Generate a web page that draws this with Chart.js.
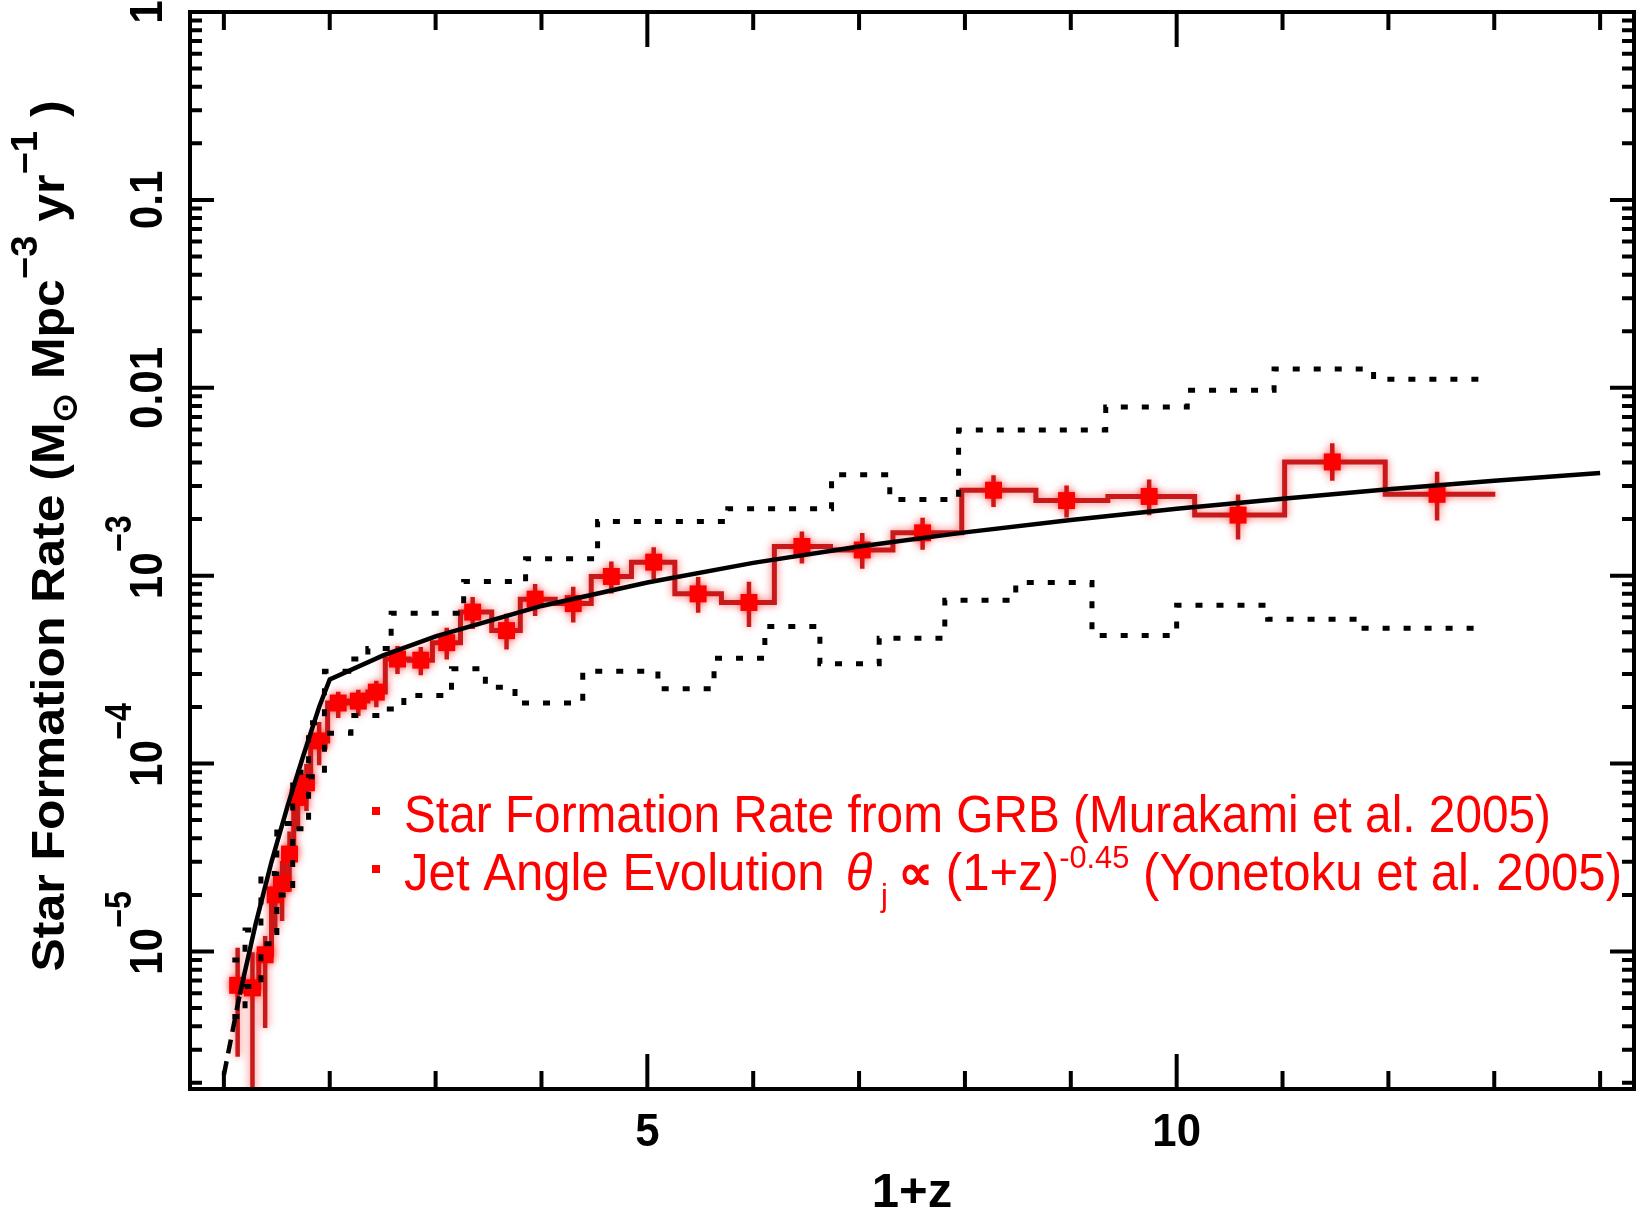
<!DOCTYPE html>
<html>
<head>
<meta charset="utf-8">
<title>Star Formation Rate from GRB</title>
<script src="https://cdn.jsdelivr.net/npm/chart.js@4.4.1/dist/chart.umd.min.js"></script>
<style>
  html, body { margin: 0; padding: 0; background: #fff; }
  #wrap { width: 1646px; height: 1214px; }
</style>
</head>
<body>
<div id="wrap"><canvas id="sfr" width="1646" height="1214"></canvas></div>
<script>
// GRB-derived star formation rate: histogram bin edges in 1+z and the rate in each bin
const binEdges = [1.07, 1.2, 1.33, 1.45, 1.52, 1.58, 1.66, 1.74, 1.82, 1.98, 2.18, 2.36, 2.525,
  2.75, 2.97, 3.235, 3.53, 3.80, 4.13, 4.47, 4.85, 5.26, 5.70, 6.20, 6.73, 7.32, 7.97, 8.67,
  9.35, 10.17, 11.02, 11.97, 13.01];
const binRate = [6.6e-6, 6.4e-6, 9.6e-6, 2.0e-5, 2.3e-5, 3.3e-5, 6.6e-5, 7.9e-5, 1.32e-4,
  2.1e-4, 2.15e-4, 2.4e-4, 3.6e-4, 3.55e-4, 4.4e-4, 6.4e-4, 5.1e-4, 7.5e-4, 7.1e-4, 9.9e-4,
  1.18e-3, 8.0e-4, 7.2e-4, 1.43e-3, 1.37e-3, 1.69e-3, 2.85e-3, 2.51e-3, 2.64e-3, 2.10e-3,
  4.03e-3, 2.71e-3];
// marker positions and error bar lengths (dex above / below the bin value)
const markX = [1.13, 1.27, 1.39, 1.485, 1.55, 1.62, 1.70, 1.78, 1.90, 2.08, 2.27, 2.44, 2.64,
  2.86, 3.105, 3.35, 3.67, 3.94, 4.30, 4.66, 5.06, 5.48, 5.96, 6.46, 7.03, 7.60, 8.27, 8.96,
  9.74, 10.58, 11.47, 12.46];
const errUp = [0.20, 0.19, 0.10, 0.12, 0.12, 0.12, 0.10, 0.10, 0.10, 0.06, 0.06, 0.06, 0.07,
  0.07, 0.08, 0.08, 0.09, 0.08, 0.09, 0.08, 0.08, 0.09, 0.11, 0.08, 0.09, 0.08, 0.08, 0.08,
  0.09, 0.11, 0.10, 0.12];
const errDown = [0.38, 0.80, 0.39, 0.20, 0.20, 0.20, 0.17, 0.15, 0.13, 0.08, 0.08, 0.08, 0.08,
  0.08, 0.09, 0.09, 0.10, 0.09, 0.10, 0.09, 0.09, 0.10, 0.13, 0.09, 0.10, 0.09, 0.09, 0.09,
  0.10, 0.13, 0.10, 0.14];

// upper and lower bounds (dotted step lines)
const upEdges = [1.08, 1.2, 1.35, 1.5, 1.65, 1.8, 1.95, 2.18, 2.36, 2.58, 3.265, 3.85, 4.53,
  5.76, 6.74, 7.29, 7.94, 9.33, 10.1, 10.92, 11.86, 12.87];
const upRate = [9e-6, 1.3e-5, 2.6e-5, 4.8e-5, 9.0e-5, 1.65e-4, 3.1e-4, 3.6e-4, 4.1e-4, 6.3e-4,
  9.3e-4, 1.23e-3, 1.94e-3, 2.27e-3, 3.44e-3, 2.54e-3, 5.96e-3, 7.9e-3, 9.7e-3, 1.26e-2, 1.11e-2];
const loEdges = [1.08, 1.2, 1.35, 1.5, 1.65, 1.8, 1.95, 2.2, 2.53, 2.70, 3.15, 3.47, 3.75, 4.39,
  5.1, 5.63, 6.11, 6.63, 7.19, 7.81, 8.48, 9.2, 10.0, 10.86, 11.77, 12.85];
const loRate = [4.5e-6, 6.5e-6, 1.1e-5, 2.0e-5, 4.5e-5, 8.5e-5, 1.45e-4, 1.8e-4, 1.95e-4, 2.3e-4,
  3.2e-4, 2.55e-4, 2.1e-4, 3.1e-4, 2.5e-4, 3.64e-4, 5.37e-4, 3.4e-4, 4.65e-4, 7.4e-4, 9.2e-4,
  4.8e-4, 6.95e-4, 5.86e-4, 5.25e-4];

// jet angle evolution model curve
const modelX = [1.0, 1.15, 1.3, 1.45, 1.6, 1.75, 1.9, 2.0, 2.5, 3, 4, 5, 6, 7, 8, 9, 10, 11, 12, 13, 14];
const modelY = [2.2e-6, 5.9e-6, 1.4e-5, 3.0e-5, 5.9e-5, 1.1e-4, 2.0e-4, 2.8e-4, 3.75e-4, 4.75e-4,
  6.9e-4, 9.2e-4, 1.17e-3, 1.43e-3, 1.70e-3, 1.98e-3, 2.27e-3, 2.57e-3, 2.88e-3, 3.2e-3, 3.52e-3];
const modelDashedBelow = 1.15;

// axis ticks and labels
const xTicks = [1, 2, 3, 4, 5, 6, 7, 8, 9, 10, 11, 12, 13, 14];
const xLabeled = [5, 10];
const yDecades = [1e-5, 1e-4, 1e-3, 0.01, 0.1, 1];
const yLabels = [['10', '\u22125'], ['10', '\u22124'], ['10', '\u22123'], ['0.01'], ['0.1'], ['1']];

const RED_LINE = 'rgb(200,26,26)';
const RED_MARK = 'rgb(255,0,0)';
const FONT = '"Liberation Sans", Arial, sans-serif';

function steps(edges, rates) {
  return edges.map((x, i) => ({ x: x, y: rates[Math.min(i, rates.length - 1)] }));
}

const errBars = [];
markX.forEach((x, i) => {
  errBars.push({ x: x, y: binRate[i] * Math.pow(10, errUp[i]) });
  errBars.push({ x: x, y: binRate[i] / Math.pow(10, errDown[i]) });
  errBars.push({ x: x, y: null });
});

// soft red halo around the GRB histogram
const glow = {
  id: 'glow',
  beforeDatasetDraw(chart, args) {
    const ds = chart.data.datasets[args.index];
    chart.ctx.save();
    if (ds.glow) {
      chart.ctx.shadowColor = 'rgba(255,0,0,0.6)';
      chart.ctx.shadowBlur = 8;
    }
  },
  afterDatasetDraw(chart) {
    chart.ctx.restore();
  }
};

// text pieces laid along one baseline, squeezed horizontally by sx
function runWidth(ctx, parts) {
  let w = 0;
  parts.forEach(p => {
    ctx.font = (p.style || '') + ' ' + p.size + 'px ' + FONT;
    w += ctx.measureText(p.t).width + (p.gap || 0);
  });
  return w;
}
function drawRun(ctx, parts, x0, y0, sx) {
  let x = 0;
  ctx.save();
  ctx.translate(x0, y0);
  ctx.scale(sx, 1);
  parts.forEach(p => {
    ctx.font = (p.style || '') + ' ' + p.size + 'px ' + FONT;
    ctx.fillText(p.t, x, p.dy || 0);
    x += ctx.measureText(p.t).width + (p.gap || 0);
  });
  ctx.restore();
}

const frame = {
  id: 'frame',
  afterDraw(chart) {
    const ctx = chart.ctx;
    const a = chart.chartArea;
    const xs = chart.scales.x, ys = chart.scales.y;
    ctx.save();
    ctx.strokeStyle = '#000';
    ctx.fillStyle = '#000';
    ctx.lineWidth = 4;
    ctx.lineCap = 'butt';
    ctx.strokeRect(a.left, a.top, a.right - a.left, a.bottom - a.top);

    ctx.beginPath();
    xTicks.forEach(v => {
      const px = xs.getPixelForValue(v);
      const len = xLabeled.includes(v) ? 35 : 18;
      ctx.moveTo(px, a.bottom); ctx.lineTo(px, a.bottom - len);
      ctx.moveTo(px, a.top); ctx.lineTo(px, a.top + len);
    });
    for (let e = -6; e <= 0; e++) {
      for (let k = 1; k <= 9; k++) {
        const v = k * Math.pow(10, e);
        if (v < ys.min * 0.999 || v > ys.max * 1.001) continue;
        const py = ys.getPixelForValue(v);
        const len = k === 1 ? 24 : 12;
        ctx.moveTo(a.left, py); ctx.lineTo(a.left + len, py);
        ctx.moveTo(a.right, py); ctx.lineTo(a.right - len, py);
      }
    }
    ctx.stroke();

    // x tick labels and title
    ctx.textAlign = 'left';
    ctx.textBaseline = 'alphabetic';
    const sx = 0.95;
    xLabeled.forEach(v => {
      const parts = [{ t: String(v), size: 46, style: 'bold' }];
      const w = runWidth(ctx, parts) * sx;
      drawRun(ctx, parts, xs.getPixelForValue(v) - w / 2, 1146, sx);
    });
    const xt = [{ t: '1+z', size: 49, style: 'bold' }];
    drawRun(ctx, xt, (a.left + a.right) / 2 - runWidth(ctx, xt) / 2, 1207, 1);

    // y tick labels, rotated to read upwards
    const sy = 0.9;
    yDecades.forEach((v, i) => {
      const lab = yLabels[i];
      const py = ys.getPixelForValue(v);
      const base = [{ t: lab[0], size: 47, style: 'bold' }];
      const w = runWidth(ctx, base) * sy;
      ctx.save();
      ctx.translate(162, py);
      ctx.rotate(-Math.PI / 2);
      const parts = lab.length > 1 ? base.concat([{ t: lab[1], size: 36, style: 'bold', dy: -31 }]) : base;
      drawRun(ctx, parts, -w / 2, 0, sy);
      ctx.restore();
    });

    // y axis title
    const yt = [
      { t: 'Star Formation Rate (M', size: 47, style: 'bold' },
      { t: '\u2299', size: 34, style: 'bold', dy: 12 },
      { t: ' Mpc', size: 47, style: 'bold' },
      { t: '\u22123', size: 36, style: 'bold', dy: -27 },
      { t: ' yr', size: 47, style: 'bold' },
      { t: '\u22121', size: 36, style: 'bold', dy: -27 },
      { t: ' )', size: 47, style: 'bold' }
    ];
    const ytS = 871 / runWidth(ctx, yt);
    ctx.save();
    ctx.translate(64, 536);
    ctx.rotate(-Math.PI / 2);
    drawRun(ctx, yt, -871 / 2, 0, ytS);
    ctx.restore();

    // legend text in red
    ctx.fillStyle = RED_MARK;
    ctx.fillRect(372, 807, 8, 8);
    ctx.fillRect(372, 865, 8, 8);
    const l1 = [{ t: 'Star Formation Rate from GRB (Murakami et al. 2005)', size: 51 }];
    drawRun(ctx, l1, 404, 832, 1147 / runWidth(ctx, l1));
    const l2 = [
      { t: 'Jet Angle Evolution', size: 51, gap: 22 },
      { t: '\u03b8', size: 51, style: 'italic' },
      { t: ' j', size: 32, dy: 16, gap: 10 },
      { t: '\u221d ', size: 51, style: 'bold' },
      { t: '(1+z)', size: 51 },
      { t: '-0.45', size: 32, dy: -22 },
      { t: ' (Yonetoku et al. 2005)', size: 51 }
    ];
    drawRun(ctx, l2, 404, 890, 1218 / runWidth(ctx, l2));
    ctx.restore();
  }
};

new Chart(document.getElementById('sfr'), {
  type: 'line',
  data: {
    datasets: [
      {
        label: 'Jet angle evolution model',
        data: modelX.map((x, i) => ({ x: x, y: modelY[i] })),
        borderColor: '#000',
        borderWidth: 4.5,
        pointRadius: 0,
        tension: 0,
        segment: {
          borderDash: c => (c.p1.parsed.x <= modelDashedBelow ? [14, 8] : undefined)
        }
      },
      {
        label: 'Upper bound',
        data: steps(upEdges, upRate),
        stepped: true,
        borderColor: '#000',
        borderWidth: 5,
        borderDash: [7, 14],
        pointRadius: 0
      },
      {
        label: 'Lower bound',
        data: steps(loEdges, loRate),
        stepped: true,
        borderColor: '#000',
        borderWidth: 5,
        borderDash: [7, 14],
        pointRadius: 0
      },
      {
        label: 'GRB markers',
        data: markX.map((x, i) => ({ x: x, y: binRate[i] })),
        showLine: false,
        pointStyle: 'rect',
        pointRadius: 12,
        pointBackgroundColor: RED_MARK,
        pointBorderWidth: 0,
        glow: true
      },
      {
        label: 'Error bars',
        data: errBars,
        borderColor: RED_LINE,
        borderWidth: 4.5,
        pointRadius: 0,
        spanGaps: false,
        glow: true
      },
      {
        label: 'Star Formation Rate from GRB',
        data: steps(binEdges, binRate),
        stepped: true,
        borderColor: RED_LINE,
        borderWidth: 5,
        pointRadius: 0,
        glow: true
      }
    ]
  },
  options: {
    responsive: false,
    animation: false,
    devicePixelRatio: 1,
    layout: { padding: { left: 190, right: 5, top: 8, bottom: 125 } },
    plugins: { legend: { display: false }, tooltip: { enabled: false } },
    scales: {
      x: { type: 'linear', min: 0.68, max: 14.32, bounds: 'data', display: false },
      y: { type: 'logarithmic', min: 1.853e-6, max: 1, bounds: 'data', display: false }
    }
  },
  plugins: [glow, frame]
});
</script>
</body>
</html>
